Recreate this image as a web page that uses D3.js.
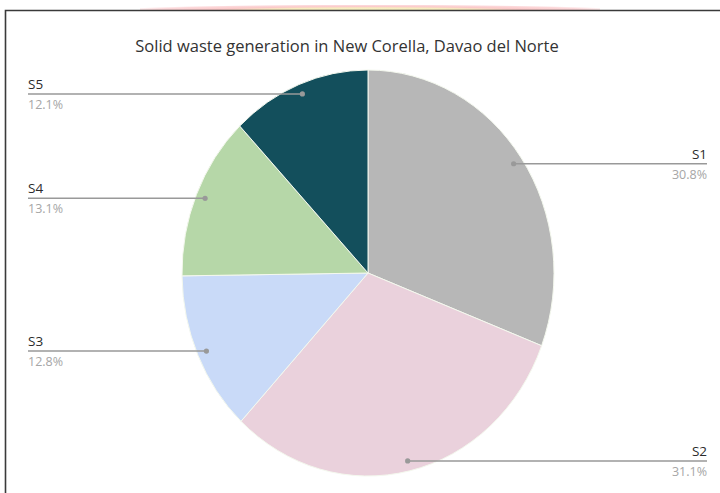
<!DOCTYPE html>
<html>
<head>
<meta charset="utf-8">
<script src="https://cdn.jsdelivr.net/npm/d3@7"></script>
<style>
  html, body { margin: 0; padding: 0; background: #fff; }
  svg { display: block; }
</style>
</head>
<body>
<svg id="chart" width="720" height="493"></svg>
<script>
// Shares of solid waste generation by source
const categories = ["S1", "S2", "S3", "S4", "S5"];
const shares = [30.8, 31.1, 12.8, 13.1, 12.1];
const sliceColors = ["#b7b7b7", "#ead1dc", "#c9daf8", "#b6d7a8", "#134f5c"];
const title = "Solid waste generation in New Corella, Davao del Norte";

const svg = d3.select("#chart");
const W = 720, H = 493;

// soft glow strip above the frame
const defs = svg.append("defs");
const glow = defs.append("radialGradient").attr("id", "glow")
  .attr("cx", "50%").attr("cy", "100%").attr("r", "55%");
glow.append("stop").attr("offset", "0%").attr("stop-color", "#f6f1c2");
glow.append("stop").attr("offset", "40%").attr("stop-color", "#f7ecbe");
glow.append("stop").attr("offset", "60%").attr("stop-color", "#fbc9c9");
glow.append("stop").attr("offset", "85%").attr("stop-color", "#fcd8da");
glow.append("stop").attr("offset", "100%").attr("stop-color", "#ffffff");
svg.append("rect").attr("x", 140).attr("y", 0).attr("width", 460).attr("height", 10)
  .attr("fill", "url(#glow)");

// chart frame
svg.append("path")
  .attr("d", "M5.5,493 V10.5 H720")
  .attr("fill", "none").attr("stroke", "#3a3a3a").attr("stroke-width", 1.6);

// title
svg.append("text")
  .attr("x", 347).attr("y", 52)
  .attr("text-anchor", "middle")
  .attr("font-family", "'Open Sans', sans-serif")
  .attr("font-size", 16.5)
  .attr("fill", "#333")
  .text(title);

// pie geometry (slightly elliptical)
const cx = 368, cy = 273;
const R = 203;
const sx = 186 / R;

const pie = d3.pie().sort(null).value(d => d)(shares);
const arc = d3.arc().innerRadius(0).outerRadius(R);
const labelArc = d3.arc().innerRadius(R * 0.95).outerRadius(R * 0.95);

const g = svg.append("g").attr("transform", `translate(${cx},${cy}) scale(${sx},1)`);
g.selectAll("path.slice")
  .data(pie)
  .join("path")
  .attr("class", "slice")
  .attr("d", arc)
  .attr("fill", (d, i) => sliceColors[i])
  .attr("stroke", "#f4f8ee")
  .attr("stroke-width", 1)
  .attr("vector-effect", "non-scaling-stroke");

// leader lines and labels
const leftX = 28, rightX = 707;
const labels = svg.append("g");
pie.forEach((d, i) => {
  const c = labelArc.centroid(d);
  const px = cx + c[0] * sx;
  const py = cy + c[1];
  const right = c[0] > 0;
  const tx = right ? rightX : leftX;
  labels.append("line")
    .attr("x1", px).attr("y1", py).attr("x2", tx).attr("y2", py)
    .attr("stroke", "#999").attr("stroke-width", 1.5);
  labels.append("circle")
    .attr("cx", px).attr("cy", py).attr("r", 2.6)
    .attr("fill", "#999");
  labels.append("text")
    .attr("x", tx).attr("y", py - 5)
    .attr("text-anchor", right ? "end" : "start")
    .attr("font-family", "'Open Sans', sans-serif")
    .attr("font-size", 13.5)
    .attr("fill", "#2b2b2b")
    .text(categories[i]);
  labels.append("text")
    .attr("x", tx).attr("y", py + 15)
    .attr("text-anchor", right ? "end" : "start")
    .attr("font-family", "'Open Sans', sans-serif")
    .attr("font-size", 12.5)
    .attr("fill", "#a6a6a6")
    .text(shares[i].toFixed(1) + "%");
});
</script>
</body>
</html>
